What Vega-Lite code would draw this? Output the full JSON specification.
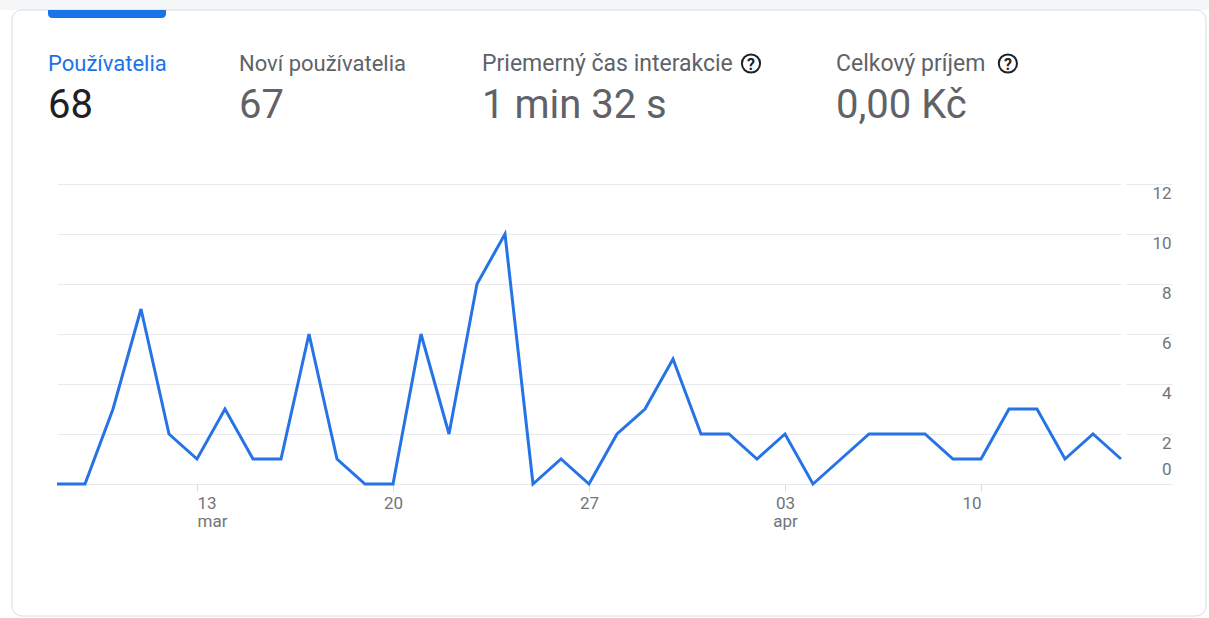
{
  "$schema": "https://vega.github.io/schema/vega-lite/v6.json",
  "autosize": {"type": "none"},
  "width": 1115,
  "height": 300,
  "padding": {"left": 57, "top": 184, "right": 37, "bottom": 134},
  "background": "#ffffff",
  "config": {"view": {"stroke": null}, "font": "Roboto"},
  "datasets": {
    "users": [
      {"date": "2022-03-08", "users": 0},
      {"date": "2022-03-09", "users": 0},
      {"date": "2022-03-10", "users": 3},
      {"date": "2022-03-11", "users": 7},
      {"date": "2022-03-12", "users": 2},
      {"date": "2022-03-13", "users": 1},
      {"date": "2022-03-14", "users": 3},
      {"date": "2022-03-15", "users": 1},
      {"date": "2022-03-16", "users": 1},
      {"date": "2022-03-17", "users": 6},
      {"date": "2022-03-18", "users": 1},
      {"date": "2022-03-19", "users": 0},
      {"date": "2022-03-20", "users": 0},
      {"date": "2022-03-21", "users": 6},
      {"date": "2022-03-22", "users": 2},
      {"date": "2022-03-23", "users": 8},
      {"date": "2022-03-24", "users": 10},
      {"date": "2022-03-25", "users": 0},
      {"date": "2022-03-26", "users": 1},
      {"date": "2022-03-27", "users": 0},
      {"date": "2022-03-28", "users": 2},
      {"date": "2022-03-29", "users": 3},
      {"date": "2022-03-30", "users": 5},
      {"date": "2022-03-31", "users": 2},
      {"date": "2022-04-01", "users": 2},
      {"date": "2022-04-02", "users": 1},
      {"date": "2022-04-03", "users": 2},
      {"date": "2022-04-04", "users": 0},
      {"date": "2022-04-05", "users": 1},
      {"date": "2022-04-06", "users": 2},
      {"date": "2022-04-07", "users": 2},
      {"date": "2022-04-08", "users": 2},
      {"date": "2022-04-09", "users": 1},
      {"date": "2022-04-10", "users": 1},
      {"date": "2022-04-11", "users": 3},
      {"date": "2022-04-12", "users": 3},
      {"date": "2022-04-13", "users": 1},
      {"date": "2022-04-14", "users": 2},
      {"date": "2022-04-15", "users": 1}
    ]
  },
  "layer": [
    {
      "data": {"values": [{}]},
      "mark": {"type": "rect", "fill": "#f5f6f7", "stroke": null},
      "encoding": {
        "x": {"datum": {"year": 2022, "month": "mar", "date": 5, "hours": 23, "minutes": 0, "utc": true}, "type": "temporal"},
        "x2": {"datum": {"year": 2022, "month": "apr", "date": 18, "hours": 4, "minutes": 0, "utc": true}},
        "y": {"datum": 19.4},
        "y2": {"datum": 18.96}
      }
    },
    {
      "data": {"values": [{}]},
      "mark": {"type": "rect", "filled": false, "stroke": "#dadce0", "strokeWidth": 1, "cornerRadius": 10},
      "encoding": {
        "x": {"datum": {"year": 2022, "month": "mar", "date": 6, "hours": 9, "minutes": 26, "utc": true}, "type": "temporal"},
        "x2": {"datum": {"year": 2022, "month": "apr", "date": 18, "hours": 0, "minutes": 51, "utc": true}},
        "y": {"datum": 18.96},
        "y2": {"datum": -5.28}
      }
    },
    {
      "data": {"values": [{}]},
      "mark": {"type": "rect", "fill": "#1a73e8", "cornerRadiusBottomLeft": 4, "cornerRadiusBottomRight": 4},
      "encoding": {
        "x": {"datum": {"year": 2022, "month": "mar", "date": 7, "hours": 16, "minutes": 17, "utc": true}, "type": "temporal"},
        "x2": {"datum": {"year": 2022, "month": "mar", "date": 11, "hours": 21, "minutes": 26, "utc": true}},
        "y": {"datum": 18.96},
        "y2": {"datum": 18.64}
      }
    },
    {
      "data": {"values": [{}]},
      "mark": {"type": "rule", "color": "#ffffff", "strokeWidth": 5},
      "encoding": {
        "x": {"datum": {"year": 2022, "month": "apr", "date": 15, "hours": 2, "minutes": 8, "utc": true}, "type": "temporal"}
      }
    },
    {
      "data": {"name": "users"},
      "mark": {"type": "line", "color": "#2673e6", "strokeWidth": 3, "strokeJoin": "miter"},
      "encoding": {
        "x": {
          "field": "date",
          "type": "temporal",
          "scale": {
            "type": "utc",
            "domain": [
              {"year": 2022, "month": "mar", "date": 8, "utc": true},
              {"year": 2022, "month": "apr", "date": 16, "hours": 19, "minutes": 43, "utc": true}
            ]
          },
          "axis": {
            "title": null,
            "values": [
              {"year": 2022, "month": "mar", "date": 13, "utc": true},
              {"year": 2022, "month": "mar", "date": 20, "utc": true},
              {"year": 2022, "month": "mar", "date": 27, "utc": true},
              {"year": 2022, "month": "apr", "date": 3, "utc": true},
              {"year": 2022, "month": "apr", "date": 10, "utc": true}
            ],
            "grid": false,
            "domain": false,
            "ticks": true,
            "tickColor": "#dadce0",
            "tickSize": 7,
            "labelExpr": "utcdate(datum.value) == 13 ? ['13', 'mar'] : (utcdate(datum.value) == 3 ? ['03', 'apr'] : '' + utcdate(datum.value))",
            "labelFont": "Roboto",
            "labelFontSize": 17,
            "labelColor": "#70757a",
            "labelPadding": 4,
            "labelLineHeight": 18,
            "labelBaseline": "top",
            "labelAlign": {
              "condition": [
                {"test": "utcdate(datum.value) == 13", "value": "left"},
                {"test": "utcdate(datum.value) == 10", "value": "right"}
              ],
              "value": "center"
            },
            "labelOverlap": false,
            "labelFlush": false
          }
        },
        "y": {
          "field": "users",
          "type": "quantitative",
          "scale": {"domain": [0, 12], "nice": false, "zero": true},
          "axis": {
            "title": null,
            "orient": "right",
            "values": [0, 2, 4, 6, 8, 10, 12],
            "grid": true,
            "gridColor": "#e8eaed",
            "gridWidth": 1,
            "domain": false,
            "ticks": false,
            "tickSize": 0,
            "labelAlign": "right",
            "labelPadding": -1,
            "labelBaseline": "middle",
            "labelOffset": {"condition": {"test": "datum.value == 0", "value": -15}, "value": 9},
            "labelFont": "Roboto",
            "labelFontSize": 17,
            "labelColor": "#70757a"
          }
        }
      }
    },
    {
      "data": {"values": [{}]},
      "mark": {"type": "text", "text": "Používatelia", "align": "left", "baseline": "alphabetic", "fontSize": 22, "color": "#1a73e8", "font": "Roboto"},
      "encoding": {
        "x": {"datum": {"year": 2022, "month": "mar", "date": 7, "hours": 16, "minutes": 17, "utc": true}, "type": "temporal"},
        "y": {"datum": 16.52}
      }
    },
    {
      "data": {"values": [{}]},
      "mark": {"type": "text", "text": "68", "align": "left", "baseline": "alphabetic", "fontSize": 40, "color": "#202124", "font": "Roboto"},
      "encoding": {
        "x": {"datum": {"year": 2022, "month": "mar", "date": 7, "hours": 16, "minutes": 17, "utc": true}, "type": "temporal"},
        "y": {"datum": 14.64}
      }
    },
    {
      "data": {"values": [{}]},
      "mark": {"type": "text", "text": "Noví používatelia", "align": "left", "baseline": "alphabetic", "fontSize": 22, "color": "#5f6368", "font": "Roboto"},
      "encoding": {
        "x": {"datum": {"year": 2022, "month": "mar", "date": 14, "hours": 12, "minutes": 0, "utc": true}, "type": "temporal"},
        "y": {"datum": 16.52}
      }
    },
    {
      "data": {"values": [{}]},
      "mark": {"type": "text", "text": "67", "align": "left", "baseline": "alphabetic", "fontSize": 40, "color": "#5f6368", "font": "Roboto"},
      "encoding": {
        "x": {"datum": {"year": 2022, "month": "mar", "date": 14, "hours": 12, "minutes": 0, "utc": true}, "type": "temporal"},
        "y": {"datum": 14.64}
      }
    },
    {
      "data": {"values": [{}]},
      "mark": {"type": "text", "text": "Priemerný čas interakcie", "align": "left", "baseline": "alphabetic", "fontSize": 23, "color": "#5f6368", "font": "Roboto"},
      "encoding": {
        "x": {"datum": {"year": 2022, "month": "mar", "date": 23, "hours": 4, "minutes": 17, "utc": true}, "type": "temporal"},
        "y": {"datum": 16.52}
      }
    },
    {
      "data": {"values": [{}]},
      "mark": {"type": "text", "text": "1 min 32 s", "align": "left", "baseline": "alphabetic", "fontSize": 40, "color": "#5f6368", "font": "Roboto"},
      "encoding": {
        "x": {"datum": {"year": 2022, "month": "mar", "date": 23, "hours": 4, "minutes": 17, "utc": true}, "type": "temporal"},
        "y": {"datum": 14.64}
      }
    },
    {
      "data": {"values": [{}]},
      "mark": {"type": "text", "text": "Celkový príjem", "align": "left", "baseline": "alphabetic", "fontSize": 23, "color": "#5f6368", "font": "Roboto"},
      "encoding": {
        "x": {"datum": {"year": 2022, "month": "apr", "date": 4, "hours": 19, "minutes": 43, "utc": true}, "type": "temporal"},
        "y": {"datum": 16.52}
      }
    },
    {
      "data": {"values": [{}]},
      "mark": {"type": "text", "text": "0,00 Kč", "align": "left", "baseline": "alphabetic", "fontSize": 40, "color": "#5f6368", "font": "Roboto"},
      "encoding": {
        "x": {"datum": {"year": 2022, "month": "apr", "date": 4, "hours": 19, "minutes": 43, "utc": true}, "type": "temporal"},
        "y": {"datum": 14.64}
      }
    },
    {
      "data": {"values": [{}]},
      "mark": {"type": "point", "shape": "circle", "size": 330, "filled": false, "stroke": "#202124", "strokeWidth": 2, "opacity": 1},
      "encoding": {
        "x": {"datum": {"year": 2022, "month": "apr", "date": 1, "hours": 18, "minutes": 51, "utc": true}, "type": "temporal"},
        "y": {"datum": 16.82}
      }
    },
    {
      "data": {"values": [{}]},
      "mark": {"type": "text", "text": "?", "align": "center", "baseline": "middle", "fontSize": 16, "fontWeight": "bold", "color": "#202124", "font": "Roboto", "dy": 1},
      "encoding": {
        "x": {"datum": {"year": 2022, "month": "apr", "date": 1, "hours": 18, "minutes": 51, "utc": true}, "type": "temporal"},
        "y": {"datum": 16.82}
      }
    },
    {
      "data": {"values": [{}]},
      "mark": {"type": "point", "shape": "circle", "size": 330, "filled": false, "stroke": "#202124", "strokeWidth": 2, "opacity": 1},
      "encoding": {
        "x": {"datum": {"year": 2022, "month": "apr", "date": 10, "hours": 23, "minutes": 3, "utc": true}, "type": "temporal"},
        "y": {"datum": 16.82}
      }
    },
    {
      "data": {"values": [{}]},
      "mark": {"type": "text", "text": "?", "align": "center", "baseline": "middle", "fontSize": 16, "fontWeight": "bold", "color": "#202124", "font": "Roboto", "dy": 1},
      "encoding": {
        "x": {"datum": {"year": 2022, "month": "apr", "date": 10, "hours": 23, "minutes": 3, "utc": true}, "type": "temporal"},
        "y": {"datum": 16.82}
      }
    }
  ]
}
